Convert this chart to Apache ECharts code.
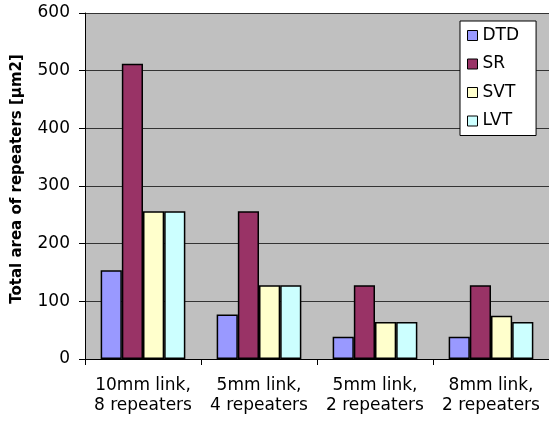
<!DOCTYPE html>
<html><head><meta charset="utf-8">
<script src="https://cdn.jsdelivr.net/npm/echarts@6/dist/echarts.min.js"></script>
<style>html,body{margin:0;padding:0;background:#fff}#c{width:549px;height:421px}</style>
</head><body><div id="c"></div>
<script>
const categories = ['10mm link,\n8 repeaters', '5mm link,\n4 repeaters', '5mm link,\n2 repeaters', '8mm link,\n2 repeaters'];
const seriesNames = ['DTD', 'SR', 'SVT', 'LVT'];
const DTD = [154, 77, 38.5, 38.5];
const SR = [512, 256, 128, 128];
const SVT = [256, 128, 64, 75];
const LVT = [256, 128, 64, 64];
const colors = ['#9999FF', '#993366', '#FFFFCC', '#CCFFFF'];
const yTicks = [0, 100, 200, 300, 400, 500, 600];

const font = '"DejaVu Sans", Arial, sans-serif';
const values = [DTD, SR, SVT, LVT];
const chart = echarts.init(document.getElementById('c'));
chart.setOption({
  animation: false,
  textStyle: { fontFamily: font },
  grid: { left: 85, right: 0, top: 13, bottom: 62, backgroundColor: '#C0C0C0', show: true, borderWidth: 0 },
  legend: {
    orient: 'vertical', left: 460, top: 21,
    backgroundColor: '#fff', borderColor: '#000', borderWidth: 1,
    padding: [6, 17, 6, 7], itemGap: 11.5,
    itemWidth: 10, itemHeight: 10, icon: 'rect',
    itemStyle: { borderWidth: 1, borderColor: '#000' },
    textStyle: { fontSize: 17, color: '#000', fontFamily: font },
    data: seriesNames
  },
  xAxis: {
    type: 'category', data: categories,
    axisLine: { lineStyle: { color: '#000', width: 1 } },
    axisTick: { show: true, length: 6, lineStyle: { color: '#000' } },
    axisLabel: { fontSize: 17, color: '#000', lineHeight: 20, margin: 17, interval: 0, fontFamily: font }
  },
  yAxis: {
    type: 'value', min: yTicks[0], max: yTicks[yTicks.length - 1], interval: 100,
    name: 'Total area of repeaters [µm2]', nameLocation: 'middle', nameGap: 60,
    nameTextStyle: { fontSize: 15, fontWeight: 'bold', color: '#000', fontFamily: font, padding: [0, 0, 0, 14] },
    axisLine: { show: true, lineStyle: { color: '#000' } },
    axisTick: { show: true, length: 6, lineStyle: { color: '#000' } },
    axisLabel: { fontSize: 17, color: '#000', margin: 15, fontFamily: font },
    splitLine: { lineStyle: { color: '#333', width: 1 } }
  },
  series: seriesNames.map((n, i) => ({
    name: n, type: 'bar', data: values[i],
    barGap: '0%', barCategoryGap: '27%',
    itemStyle: { color: colors[i], borderColor: '#000', borderWidth: 1.5 }
  }))
});
</script></body></html>
